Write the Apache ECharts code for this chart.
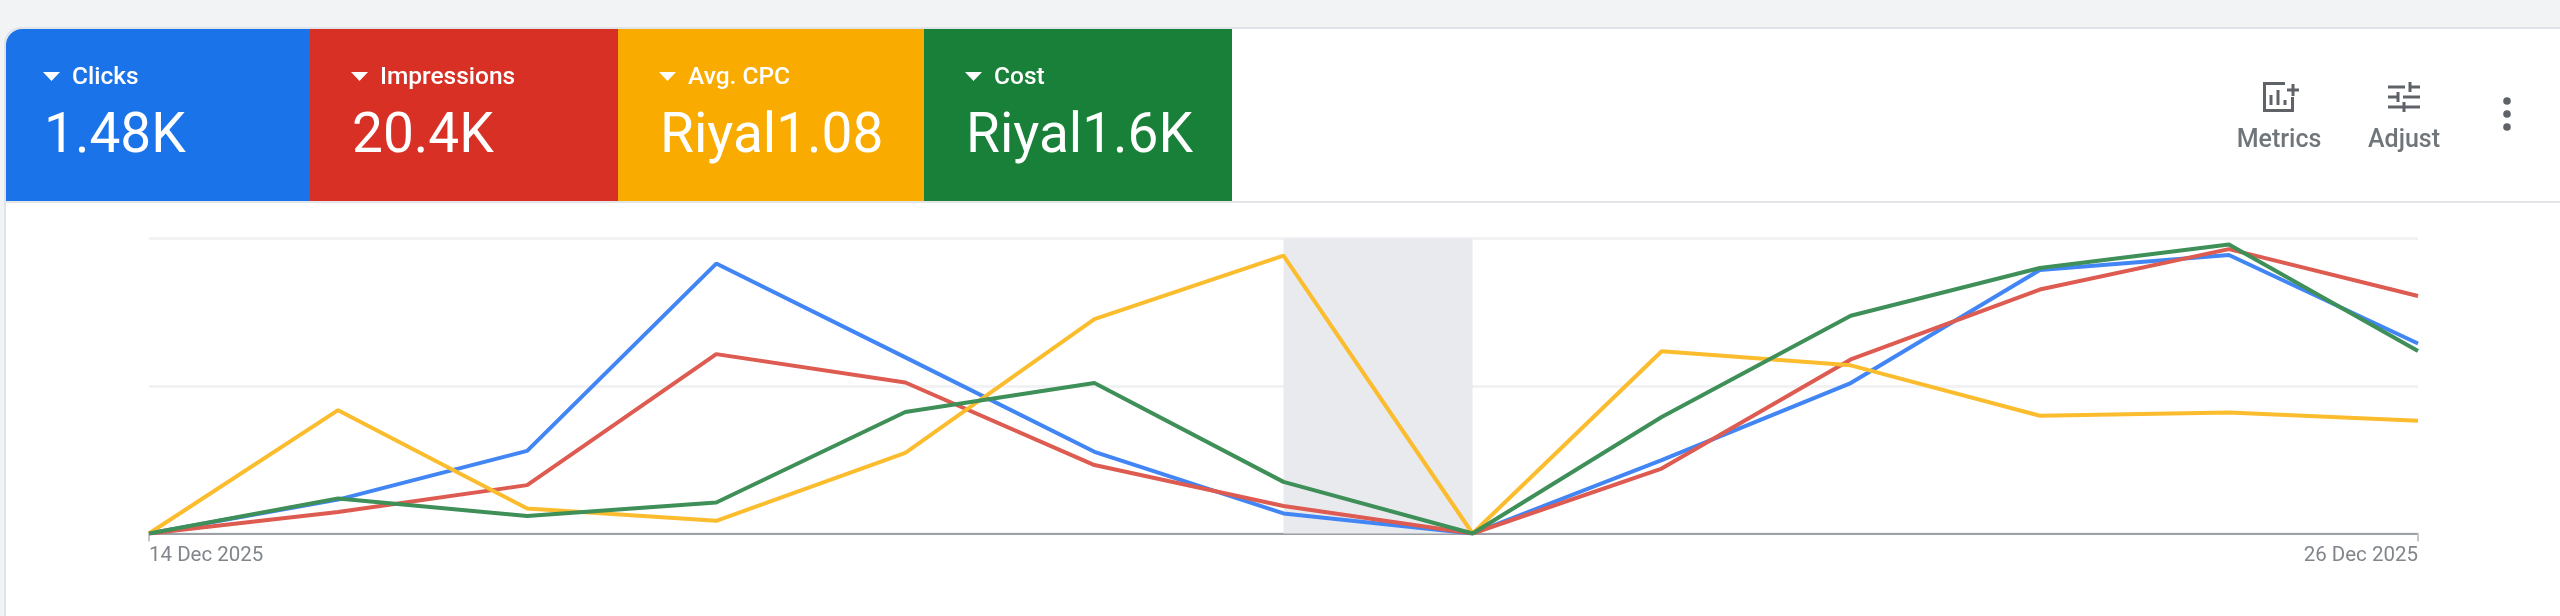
<!DOCTYPE html>
<html><head><meta charset="utf-8">
<style>html,body{margin:0;padding:0;background:#f1f3f4}#c{width:2560px;height:616px}</style>
<script src="https://cdn.jsdelivr.net/npm/echarts@6/dist/echarts.min.js"></script>
</head><body><div id="c"></div>
<script>
const dates = ['14 Dec 2025','15 Dec 2025','16 Dec 2025','17 Dec 2025','18 Dec 2025','19 Dec 2025','20 Dec 2025','21 Dec 2025','22 Dec 2025','23 Dec 2025','24 Dec 2025','25 Dec 2025','26 Dec 2025'];
const clicks      = [0,11.5,28,91.5,59.7,27.7,6.8,0,24.9,51,89.3,94.4,64.4];
const impressions = [0,7.3,16.4,60.8,51.2,23.2,9.3,0,22,59,82.7,96.4,80.5];
const avgCpc      = [0,41.8,8.5,4.3,27.3,72.7,94.2,0,61.8,57,39.9,41,38.2];
const cost        = [0,11.9,5.9,10.5,41.2,51,17.5,0,39.5,73.8,90,98,61.9];
const metricNames  = ['Clicks','Impressions','Avg. CPC','Cost'];
const metricValues = ['1.48K','20.4K','Riyal1.08','Riyal1.6K'];
const toolLabels   = ['Metrics','Adjust'];
const bandRange    = ['20 Dec 2025','21 Dec 2025'];

const FONT = 'Roboto, sans-serif';
const ICON = '#5f6368';
const tiles = [[6,310,'#1a73e8'],[310,618,'#d93025'],[618,924,'#f9ab00'],[924,1232,'#188038']];
const g = [];
g.push({type:'rect',z:0,shape:{x:5,y:28,width:2570,height:620,r:16},style:{fill:'#fff',stroke:'#e0e3e7',lineWidth:2}});
g.push({type:'line',z:1,shape:{x1:6,y1:202,x2:2560,y2:202},style:{stroke:'#e3e5e8',lineWidth:2}});
tiles.forEach((t,i)=>{
  g.push({type:'rect',z:2,shape:{x:t[0],y:29,width:t[1]-t[0],height:172,r:i===0?[16,0,0,0]:0},style:{fill:t[2]}});
  const l=t[0]+(i===0?37:41);
  g.push({type:'polygon',z:3,shape:{points:[[l,72],[l+17,72],[l+8.5,81]]},style:{fill:'#fff'}});
  g.push({type:'text',z:3,x:l+29,y:78,style:{text:metricNames[i],fill:'#fff',font:'500 24.5px '+FONT,textVerticalAlign:'middle'}});
  g.push({type:'text',z:3,x:l+1,y:138,style:{text:metricValues[i],fill:'#fff',font:'400 55px '+FONT,textVerticalAlign:'middle'}});
});
const strokeLine=(x1,y1,x2,y2)=>({type:'line',z:3,shape:{x1,y1,x2,y2},style:{stroke:ICON,lineWidth:3}});
g.push({type:'polyline',z:3,shape:{points:[[2285,83.5],[2264.5,83.5],[2264.5,110.5],[2292.5,110.5],[2292.5,97]]},style:{stroke:ICON,lineWidth:3,fill:null}});
g.push(strokeLine(2271,105,2271,95),strokeLine(2278,105,2278,90),strokeLine(2285,105,2285,100));
g.push(strokeLine(2287,90,2299,90),strokeLine(2293,84,2293,96));
g.push(strokeLine(2388,87,2405,87),strokeLine(2410,82,2410,92),strokeLine(2410,87,2420,87));
g.push(strokeLine(2388,97,2398,97),strokeLine(2398,92,2398,102),strokeLine(2403,97,2420,97));
g.push(strokeLine(2388,107,2404,107),strokeLine(2404,102,2404,112),strokeLine(2404,107,2420,107));
[2279,2404].forEach((x,i)=>g.push({type:'text',z:3,x,y:141,style:{text:toolLabels[i],fill:'#70757a',font:'500 25px '+FONT,textAlign:'center',textVerticalAlign:'middle'}}));
[101,114,127].forEach(y=>g.push({type:'circle',z:3,shape:{cx:2507,cy:y,r:3.8},style:{fill:ICON}}));

const mk=(name,data,color,extra)=>Object.assign({name,type:'line',data,symbol:'none',silent:true,z:5,
  lineStyle:{color,width:4},itemStyle:{color}},extra||{});
const chart=echarts.init(document.getElementById('c'),null,{renderer:'canvas'});
chart.setOption({
  animation:false,
  backgroundColor:'#f1f3f4',
  graphic:{elements:g},
  grid:{left:149,right:142,top:238.5,bottom:82.5,containLabel:false},
  xAxis:{type:'category',data:dates,boundaryGap:false,
    axisLine:{lineStyle:{color:'#9aa0a6',width:2}},
    axisTick:{show:true,length:8,lineStyle:{color:'#c4c7ca',width:2},interval:i=>i===0||i===dates.length-1},
    axisLabel:{interval:i=>i===0||i===dates.length-1,color:'#80868b',fontSize:20.5,fontFamily:FONT,margin:12,alignMinLabel:'left',alignMaxLabel:'right',showMinLabel:true,showMaxLabel:true},
    splitLine:{show:false}},
  yAxis:{type:'value',min:0,max:100,interval:50,axisLabel:{show:false},axisLine:{show:false},axisTick:{show:false},
    splitLine:{lineStyle:{color:'#f1f2f3',width:3}}},
  series:[
    mk('Clicks',clicks,'#4285f4',{markArea:{silent:true,itemStyle:{color:'rgba(232,233,236,0.95)'},data:[[{xAxis:bandRange[0]},{xAxis:bandRange[1]}]]}}),
    mk('Impressions',impressions,'#dd5b50'),
    mk('Avg. CPC',avgCpc,'#fbbc2e'),
    mk('Cost',cost,'#3e8f58')
  ]
});
</script></body></html>
